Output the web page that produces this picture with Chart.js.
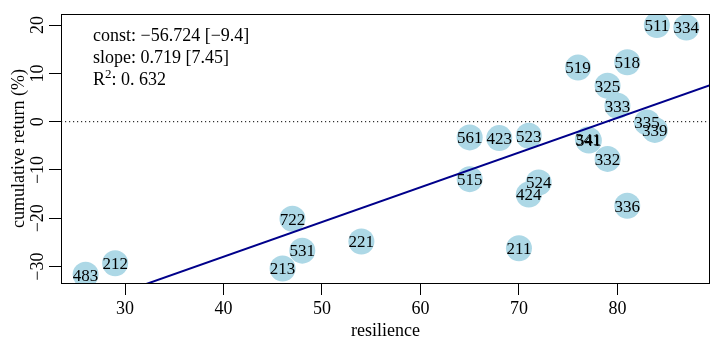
<!DOCTYPE html>
<html>
<head>
<meta charset="utf-8">
<script src="https://cdn.jsdelivr.net/npm/chart.js@4"></script>
<style>
  body { margin: 0; background: #fff; }
  canvas { display: block; }
</style>
</head>
<body>
<canvas id="chart" width="723" height="346"></canvas>
<script>
const ids = ["511", "334", "519", "518", "325", "333", "335", "339", "341", "541",
    "332", "561", "423", "523", "515", "524", "424", "336", "211", "221",
    "722", "531", "213", "212", "483"];
const resilience = [84, 87, 76, 81, 79, 80, 83, 83.8, 77, 77.1,
    79, 65, 68, 71, 65, 72, 71, 81, 70, 54,
    47, 48, 46, 29, 26];
const cumReturn = [20, 19.5, 11.2, 12.3, 7.45, 3.3, -0.15, -1.7, -3.7, -3.9,
    -7.7, -3.25, -3.4, -2.9, -11.9, -12.6, -15.1, -17.4, -26.2, -24.8,
    -20.1, -26.7, -30.4, -29.3, -31.7];
const xTicks = [30, 40, 50, 60, 70, 80];
const yTicks = [-30, -20, -10, 0, 10, 20];
const intercept = -56.724;
const slope = 0.719;

const xMin = 23.5, xMax = 89.4;
const yMin = -33.4, yMax = 22.3;
const serif = "'Liberation Serif', 'DejaVu Serif', serif";

const labelPlugin = {
    id: "labels",
    afterDatasetsDraw(chart) {
        const ctx = chart.ctx;
        const area = chart.chartArea;
        const meta = chart.getDatasetMeta(1);
        ctx.save();
        ctx.beginPath();
        ctx.rect(area.left, area.top, area.right - area.left, area.bottom - area.top);
        ctx.clip();
        ctx.font = "17px " + serif;
        ctx.fillStyle = "#000";
        ctx.textAlign = "center";
        ctx.textBaseline = "alphabetic";
        meta.data.forEach((pt, i) => {
            ctx.fillText(ids[i], pt.x, pt.y + 5.8);
        });
        ctx.restore();
    },
    afterDraw(chart) {
        const ctx = chart.ctx;
        const area = chart.chartArea;
        ctx.save();
        ctx.strokeStyle = "#000";
        ctx.lineWidth = 1;
        ctx.strokeRect(area.left + 0.5, area.top + 0.5, area.right - area.left - 1, area.bottom - area.top);
        // fit statistics
        const x0 = area.left + 32;
        ctx.font = "18px " + serif;
        ctx.fillStyle = "#000";
        ctx.textAlign = "left";
        ctx.textBaseline = "alphabetic";
        ctx.fillText("const: \u221256.724 [\u22129.4]", x0, 41);
        ctx.fillText("slope: 0.719 [7.45]", x0, 63);
        ctx.fillText("R", x0, 85);
        const rw = ctx.measureText("R").width;
        ctx.font = "13px " + serif;
        ctx.fillText("2", x0 + rw, 78);
        const sw = ctx.measureText("2").width;
        ctx.font = "18px " + serif;
        ctx.fillText(": 0. 632", x0 + rw + sw, 85);
        ctx.restore();
    }
};

new Chart(document.getElementById("chart"), {
    type: "scatter",
    data: {
        datasets: [
            {
                type: "line",
                data: [{ x: xMin, y: intercept + slope * xMin }, { x: xMax, y: intercept + slope * xMax }],
                borderColor: "#00008B",
                borderWidth: 2,
                pointRadius: 0,
                clip: 0,
                order: 1,
            },
            {
                data: resilience.map((v, i) => ({ x: v, y: cumReturn[i] })),
                backgroundColor: "#ADD8E6",
                borderWidth: 0,
                pointRadius: 13,
                pointHoverRadius: 13,
                clip: 0,
                order: 2,
            },
            {
                type: "line",
                data: [{ x: xMin, y: 0 }, { x: xMax, y: 0 }],
                borderColor: "#000",
                borderWidth: 1,
                borderDash: [1.2, 2.8],
                pointRadius: 0,
                clip: 0,
                order: 3,
            },
        ],
    },
    options: {
        responsive: false,
        animation: false,
        events: [],
        layout: { padding: { top: 14, right: 11, left: 0, bottom: 0 } },
        plugins: { legend: { display: false }, tooltip: { enabled: false } },
        scales: {
            x: {
                type: "linear",
                min: xMin,
                max: xMax,
                afterBuildTicks: (scale) => { scale.ticks = xTicks.map((v) => ({ value: v })); },
                afterFit: (scale) => { scale.height = 63; },
                grid: { drawOnChartArea: false, color: "#000", tickLength: 12 },
                border: { display: false },
                ticks: { color: "#000", font: { family: serif, size: 18 }, padding: 3, maxRotation: 0 },
                title: { display: true, text: "resilience", color: "#000", font: { family: serif, size: 18 }, padding: { top: 0, bottom: 4 } },
            },
            y: {
                type: "linear",
                min: yMin,
                max: yMax,
                afterBuildTicks: (scale) => { scale.ticks = yTicks.map((v) => ({ value: v })); },
                afterFit: (scale) => { scale.width = 61; },
                grid: { drawOnChartArea: false, color: "#000", tickLength: 12 },
                border: { display: false },
                ticks: {
                    color: "#000", font: { family: serif, size: 18 }, padding: -3,
                    minRotation: 90, maxRotation: 90, crossAlign: "center",
                    callback: (v) => String(v).replace("-", "\u2212"),
                },
                title: { display: true, text: "cumulative return (%)", color: "#000", font: { family: serif, size: 18 }, padding: { top: 8, bottom: 0 } },
            },
        },
    },
    plugins: [labelPlugin],
});
</script>
</body>
</html>
